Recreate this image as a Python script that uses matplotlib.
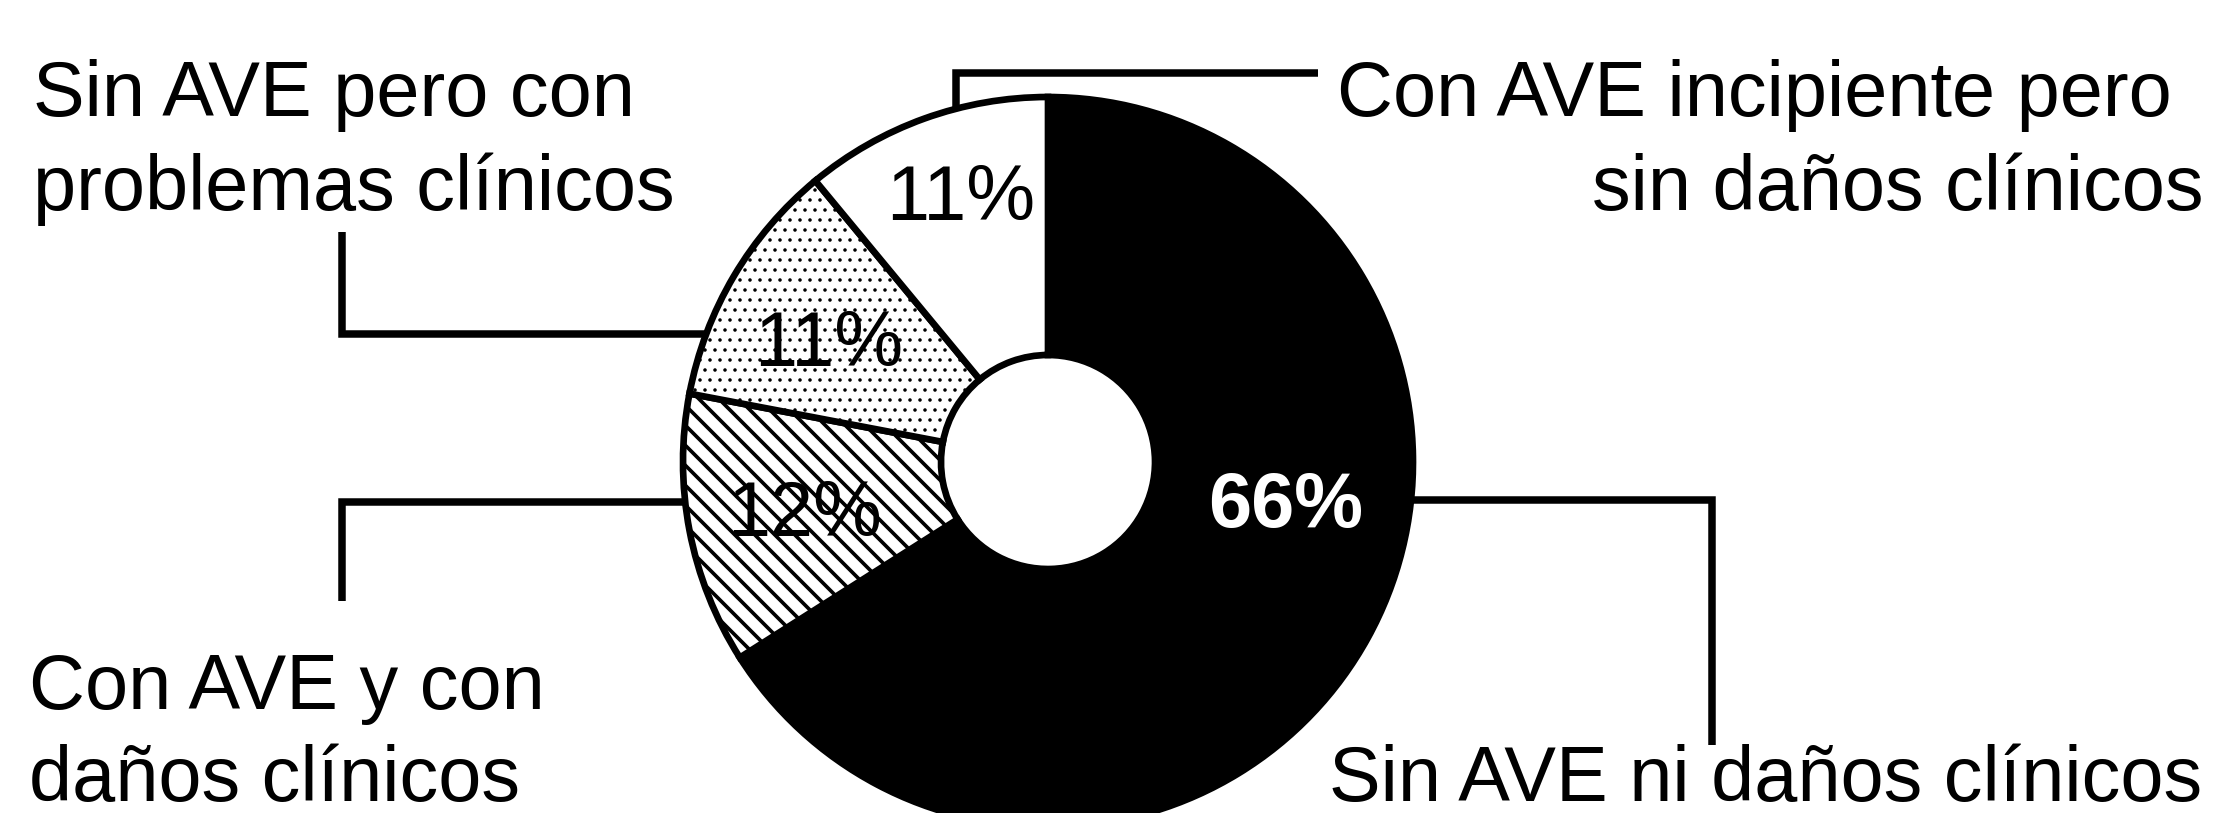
import numpy as np
import matplotlib
matplotlib.use("Agg")
import matplotlib.pyplot as plt

# ---------------- data ----------------
categories = ["Sin AVE ni daños clínicos",
              "Con AVE y con\ndaños clínicos",
              "Sin AVE pero con\nproblemas clínicos",
              "Con AVE incipiente pero\nsin daños clínicos"]
values = [66, 12, 11, 11]
pct_labels = ["66%", "12%", "11%", "11%"]

# ---------------- styles / layout ----------------
W, H, DPI = 2220, 813, 120
FONT = "Liberation Sans"
FS = 46.5
face = ["black", "white", "white", "white"]
hatches = [None, "\\\\", "..", None]
hatch_lw = [1.0, 2.2, 0.9, 1.0]
pct_color = ["white", "black", "black", "black"]
pct_weight = ["bold", "normal", "normal", "normal"]
pct_dist = [0.66, 0.68, 0.69, 0.775]
pct_shift = [19.8, 0.0, 1.3, -1.8]

cx, cy_px, R, r_in = 1048, 462, 365, 107


def Y(y_px):
    return H - y_px


cy = Y(cy_px)

fig = plt.figure(figsize=(W / DPI, H / DPI), dpi=DPI)
ax = fig.add_axes([0, 0, 1, 1])

wedges, _ = ax.pie(values, startangle=90, counterclock=False,
                   center=(cx, cy), radius=R, colors=face,
                   wedgeprops=dict(width=R - r_in, edgecolor="black",
                                   linewidth=4.0),
                   frame=False)
for w, h, hl in zip(wedges, hatches, hatch_lw):
    w.set_zorder(2)
    if h:
        w.set_hatch(h)
        if hasattr(w, "set_hatch_linewidth"):
            w.set_hatch_linewidth(hl)

# percentage labels (baseline-aligned so the digits are centred)
cap_half = 27
for w, txt, d, s, c, fw in zip(wedges, pct_labels, pct_dist, pct_shift,
                               pct_color, pct_weight):
    ang = np.deg2rad((w.theta1 + w.theta2) / 2 + s)
    x = cx + d * R * np.cos(ang)
    y = cy + d * R * np.sin(ang) - cap_half
    ax.text(x, y, txt, ha="center", va="baseline", fontsize=FS,
            family=FONT, color=c, fontweight=fw, zorder=5)


# leader lines
def edge_x(y_px, side):
    dy = y_px - cy_px
    return cx + side * np.sqrt(R ** 2 - dy ** 2)


def edge_y(x_px):
    dx = x_px - cx
    return cy_px - np.sqrt(R ** 2 - dx ** 2)


leaders = [
    [(edge_x(500, 1), 500), (1712, 500), (1712, 745)],
    [(edge_x(502, -1), 502), (342, 502), (342, 601)],
    [(edge_x(334, -1), 334), (342, 334), (342, 232)],
    [(956, edge_y(956)), (956, 73), (1318, 73)],
]
for pts in leaders:
    xs = [p[0] for p in pts]
    ys = [Y(p[1]) for p in pts]
    ax.plot(xs, ys, color="black", lw=4.5, solid_joinstyle="miter",
            solid_capstyle="butt", zorder=1)

# category labels: one entry per text line -> (x, baseline_px, ha)
label_pos = [
    [(1329, 801, "left")],
    [(29, 709, "left"), (29, 801, "left")],
    [(33, 116, "left"), (33, 210, "left")],
    [(1337, 116, "left"), (2203, 210, "right")],
]
for cat, pos in zip(categories, label_pos):
    for line, (x, yb, ha) in zip(cat.split("\n"), pos):
        ax.text(x, Y(yb), line, ha=ha, va="baseline", fontsize=FS,
                family=FONT, color="black", zorder=5)

ax.set_xlim(0, W)
ax.set_ylim(0, H)
ax.set_aspect("auto")
ax.axis("off")

fig.savefig("out.png", dpi=DPI, facecolor="white")
